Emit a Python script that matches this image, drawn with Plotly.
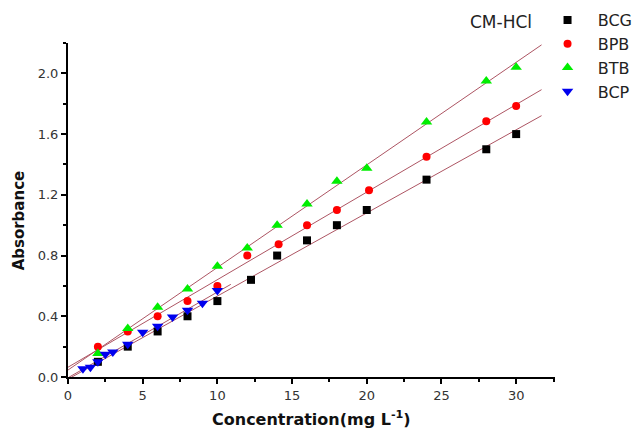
import numpy as np
import plotly.graph_objects as go

# ---- data ----
bcg_x = [2, 4, 6, 8, 10, 12.25, 14, 16, 18, 20, 24, 28, 30]
bcg_y = [0.10, 0.20, 0.30, 0.40, 0.50, 0.64, 0.80, 0.90, 1.00, 1.10, 1.30, 1.50, 1.60]

bpb_x = [2, 4, 6, 8, 10, 12, 14.1, 16, 18, 20.15, 24, 28, 30]
bpb_y = [0.20, 0.30, 0.40, 0.50, 0.60, 0.80, 0.875, 1.00, 1.10, 1.23, 1.45, 1.685, 1.785]

btb_x = [2, 4, 6, 8, 10, 12, 14, 16, 18, 20, 24, 28, 30]
btb_y = [0.155, 0.32, 0.46, 0.58, 0.73, 0.85, 1.00, 1.14, 1.29, 1.375, 1.68, 1.95, 2.04]

bcp_x = [1, 1.5, 2, 2.5, 3, 4, 5, 6, 7, 8, 9, 10]
bcp_y = [0.055, 0.065, 0.10, 0.15, 0.165, 0.215, 0.295, 0.335, 0.395, 0.44, 0.485, 0.57]

series_names = ["BCG", "BPB", "BTB", "BCP"]
fit_ranges = [[0, 31.7], [0, 31.7], [0, 31.7], [0, 10.9]]

x_ticks = [0, 5, 10, 15, 20, 25, 30]
y_ticks = [0.0, 0.4, 0.8, 1.2, 1.6, 2.0]

# ---- styles ----
marker_styles = [
    dict(symbol="square", color="black", size=8),
    dict(symbol="circle", color="red", size=8),
    dict(symbol="triangle-up", color="#00ee00", size=10),
    dict(symbol="triangle-down", color="#0000ee", size=10),
]
fit_color = "#ad5563"
FONT = "DejaVu Sans"

fig = go.Figure()
data = [(bcg_x, bcg_y), (bpb_x, bpb_y), (btb_x, btb_y), (bcp_x, bcp_y)]

# fit lines (linear regression of each series)
for (xs, ys), rng in zip(data, fit_ranges):
    k, b = np.polyfit(xs, ys, 1)
    fx = np.array(rng, dtype=float)
    fig.add_trace(go.Scatter(x=fx, y=k * fx + b, mode="lines",
                             line=dict(color=fit_color, width=1),
                             showlegend=False, hoverinfo="skip"))

for (xs, ys), name, ms in zip(data, series_names, marker_styles):
    fig.add_trace(go.Scatter(x=xs, y=ys, mode="markers",
                             name="\u00a0\u00a0" + name,
                             marker=dict(symbol=ms["symbol"], color=ms["color"],
                                         size=ms["size"], line=dict(width=0))))

axis_common = dict(
    showline=True, linecolor="black", linewidth=2,
    ticks="outside", ticklen=5, tickwidth=1.5, tickcolor="black",
    showgrid=False, zeroline=False, automargin=False,
    tickfont=dict(family=FONT, size=13, color="#333333"),
    minor=dict(ticks="outside", ticklen=3, tickwidth=1.5, tickcolor="black", showgrid=False),
)

fig.update_xaxes(range=[0, 32.6], tickvals=x_ticks,
                 minor_tickvals=[2.5, 7.5, 12.5, 17.5, 22.5, 27.5, 32.5], **axis_common)
fig.update_yaxes(range=[0, 2.2], tickvals=y_ticks, tickformat=".1f",
                 minor_tickvals=[0.2, 0.6, 1.0, 1.4, 1.8, 2.2], **axis_common)

fig.update_layout(
    width=633, height=430,
    margin=dict(l=68, r=78, t=43, b=53, autoexpand=False),
    paper_bgcolor="white", plot_bgcolor="white",
    font=dict(family=FONT, color="#222222"),
    showlegend=True,
    legend=dict(xref="container", yref="container", x=0.865, y=1 - 3 / 430,
                xanchor="left", yanchor="top", bgcolor="rgba(0,0,0,0)",
                font=dict(family=FONT, size=16, color="#222222"),
                itemwidth=30, tracegroupgap=0),
    annotations=[
        dict(text="CM-HCl", xref="paper", yref="paper", x=0.889, y=1.063,
             xanchor="center", yanchor="middle", showarrow=False,
             font=dict(family=FONT, size=17, color="#222222")),
        dict(text="<b>Absorbance</b>", xref="paper", yref="paper", x=-0.1006, y=0.469,
             xanchor="center", yanchor="middle", textangle=-90, showarrow=False,
             font=dict(family=FONT, size=15, color="#111111")),
        dict(text="<b>Concentration(mg L<sup>-1</sup>)</b>", xref="paper", yref="paper",
             x=0.5, y=-0.124, xanchor="center", yanchor="middle", showarrow=False,
             font=dict(family=FONT, size=16, color="#111111")),
    ],
)

fig.write_html("out.html")
